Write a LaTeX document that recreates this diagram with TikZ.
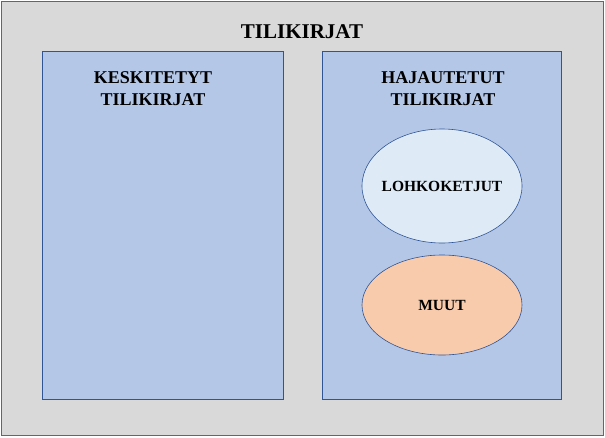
\documentclass[tikz,border=0pt]{standalone}
\usepackage{fontspec}
\setmainfont{Liberation Serif}
\usetikzlibrary{shapes.geometric}
\definecolor{outerg}{HTML}{D9D9D9}
\definecolor{boxb}{HTML}{B4C7E7}
\definecolor{edgeb}{HTML}{2F5597}
\definecolor{lightb}{HTML}{DEEBF7}
\definecolor{peach}{HTML}{F8CBAD}
\tikzset{panel/.style={draw=edgeb,fill=boxb,line width=0.6pt},
lbl/.style={font=\bfseries\fontsize{18}{22}\selectfont,align=center},
ell/.style={ellipse,draw=edgeb,line width=0.6pt,inner sep=0pt},
elltext/.style={font=\bfseries\fontsize{15.5}{18}\selectfont}}
\begin{document}
\begin{tikzpicture}[x=1pt,y=-1pt]
\useasboundingbox (0,0) rectangle (605,437);
\draw[fill=outerg,draw=gray!80!black] (1.5,1.5) rectangle (603.5,435.5);
\node[font=\bfseries\fontsize{21}{24}\selectfont] (title) at (302,32) {TILIKIRJAT};
\draw[panel] (42,51) rectangle (283,399);
\draw[panel] (322,51) rectangle (561,399);
\node[lbl] (kesk) at (153,89) {KESKITETYT\\TILIKIRJAT};
\node[lbl] (haja) at (443,89) {HAJAUTETUT\\TILIKIRJAT};
\node[ell,fill=lightb,minimum width=160,minimum height=114] (lohko) at (442,186) {};
\node[elltext] (lohkot) at (lohko) {LOHKOKETJUT};
\node[ell,fill=peach,minimum width=160,minimum height=100] (muut) at (442,305) {};
\node[elltext] (muutt) at (muut) {MUUT};
\end{tikzpicture}
\end{document}
